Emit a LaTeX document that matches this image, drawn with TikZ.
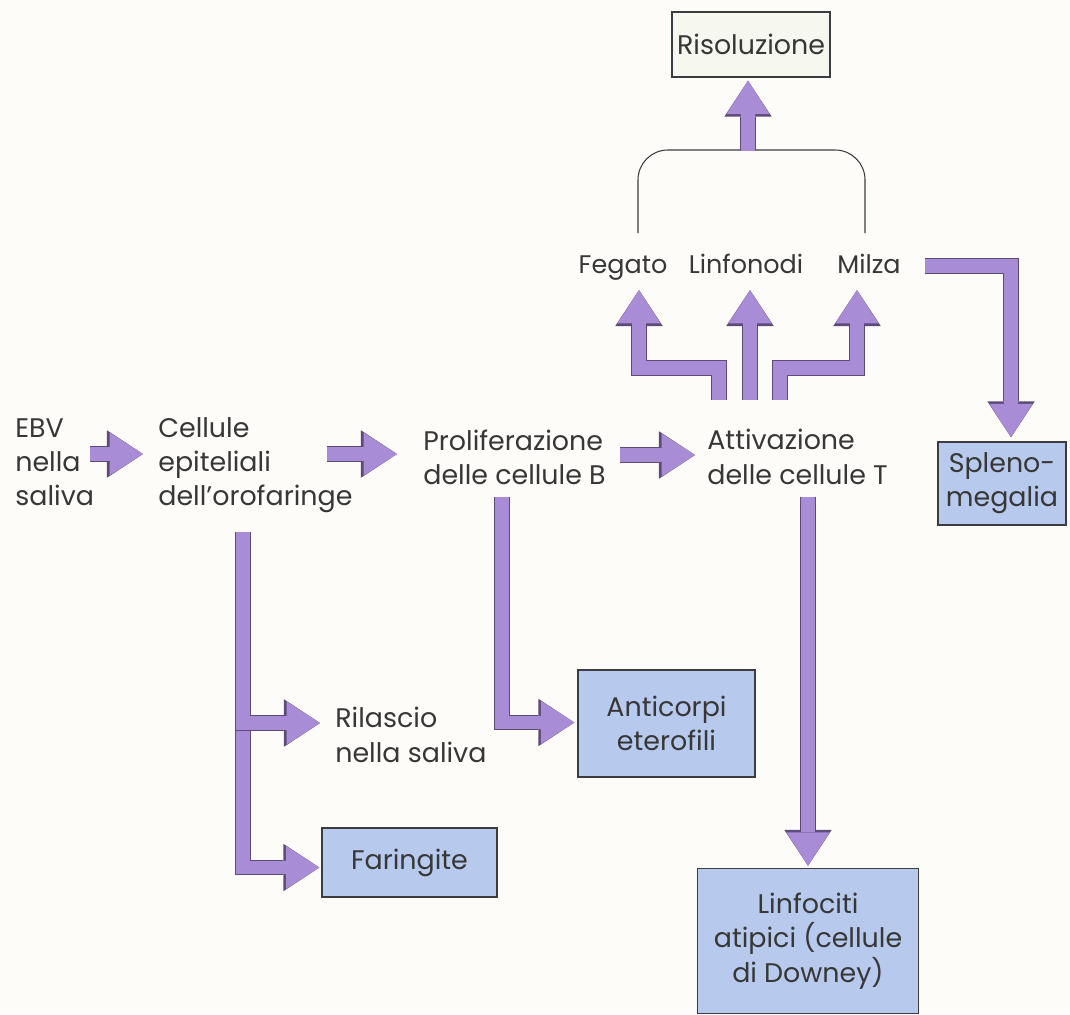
\documentclass[tikz,border=0pt]{standalone}
\usepackage{fontspec}
\setmainfont{Poppins}
\usetikzlibrary{arrows.meta,calc}
\definecolor{arrowfill}{RGB}{168,140,214}
\definecolor{arrowedge}{RGB}{92,74,120}
\definecolor{boxfill}{RGB}{183,202,238}
\definecolor{boxedge}{RGB}{60,60,64}
\definecolor{risfill}{RGB}{246,247,238}
\definecolor{txt}{RGB}{55,55,55}
\definecolor{bg}{RGB}{253,252,248}
\begin{document}
\begin{tikzpicture}[x=0.02cm,y=-0.02cm,
  every node/.style={text=txt, font=\fontsize{15.3pt}{19.5pt}\selectfont},
  lbl/.style={inner sep=0pt, align=left},
  organ/.style={inner sep=0pt, anchor=base, font=\fontsize{14.5pt}{19pt}\selectfont},
  box/.style={draw=boxedge, line width=0.8pt, fill=boxfill, align=center, inner sep=2pt},
  brk/.style={draw=boxedge, line width=0.6pt},
  fat/.style={draw=arrowfill, line width=7.6pt, line join=miter, line cap=butt,
    -{Triangle[width=24.5pt,length=19pt,line width=0pt]},
    preaction={draw=arrowedge, line width=9pt, line join=miter, line cap=butt,
      -{Triangle[width=27pt,length=20.5pt,line width=0pt]}}}]
\fill[bg] (0,0) rectangle (1070,1014);
\useasboundingbox (0,0) rectangle (1070,1014);

% text nodes
\node[lbl, anchor=west] (ebv) at (15,462) {EBV\\nella\\saliva};
\node[lbl, anchor=west] (cel) at (158,465) {Cellule\\epiteliali\\dell’orofaringe};
\node[lbl, anchor=west] (pro) at (423,457) {Proliferazione\\delle cellule B};
\node[lbl, anchor=west] (att) at (707,457) {Attivazione\\delle cellule T};
\node[lbl, anchor=west] (ril) at (335,735) {Rilascio\\nella saliva};
\node[organ] (feg) at (623,273) {Fegato};
\node[organ] (lin) at (746,273) {Linfonodi};
\node[organ] (mil) at (869,273) {Milza};

% boxes
\node[box, fill=risfill, minimum width=3.16cm, minimum height=1.3cm] (ris) at (751,44.5) {Risoluzione};
\node[box, minimum width=2.56cm, minimum height=1.66cm] (spl) at (1002,483.5) {Spleno-\\megalia};
\node[box, minimum width=3.5cm, minimum height=1.38cm] (far) at (409.5,862.5) {Faringite};
\node[box, minimum width=3.54cm, minimum height=2.14cm] (ant) at (666.5,723.5) {Anticorpi\\eterofili};
\node[box, minimum width=4.42cm, minimum height=2.9cm] (lnf) at (808,941) {Linfociti\\atipici (cellule\\di Downey)};

% main row
\draw[fat] ($(ebv.east)+(-4,-8)$) -- ($(cel.west)+(-15,-11)$);
\draw[fat] ($(cel.west)+(169,-11)$) -- ($(pro.west)+(-26,-3)$);
\draw[fat] ($(pro.west)+(197,-2)$) -- ($(att.west)+(-12,-2)$);

% fan to organs
\draw[fat] ($(att.west)+(12,-57)$) -- ++(0,-32) -| ($(feg.base)+(16,17)$);
\draw[fat] ($(att.west)+(43,-57)$) -- ($(lin.base)+(4,17)$);
\draw[fat] ($(att.west)+(73,-57)$) -- ++(0,-32) -| ($(mil.base)+(-12,17)$);

% Milza -> Splenomegalia
\draw[fat] ($(mil.base)+(56,-7)$) -| ($(spl.north)+(9,-4)$);

% bracket -> Risoluzione
\draw[brk, rounded corners=17pt] ($(feg.base)+(15,-40)$) -- ($(feg.base)+(15,-123)$)
  -- ($(mil.base)+(-4,-123)$) -- ($(mil.base)+(-4,-40)$);
\coordinate (brtop) at ($(ris.south)+(-3,73)$);
\draw[fat] (brtop) -- ($(ris.south)+(-3,3)$);

% T cells -> Linfociti atipici
\draw[fat] ($(att.west)+(101,40)$) -- ($(lnf.north)+(0,-2)$);

% epithelial cells branches
\draw[fat] ($(cel.west)+(85,67)$) |- ($(far.west)+(-2,5)$);
\draw[fat] ($(cel.west)+(85,67)$) |- ($(ril.west)+(-15,-12)$);

% B cells -> heterophile antibodies
\draw[fat] ($(pro.west)+(79,40)$) |- ($(ant.west)+(-3,-1)$);
\end{tikzpicture}
\end{document}
